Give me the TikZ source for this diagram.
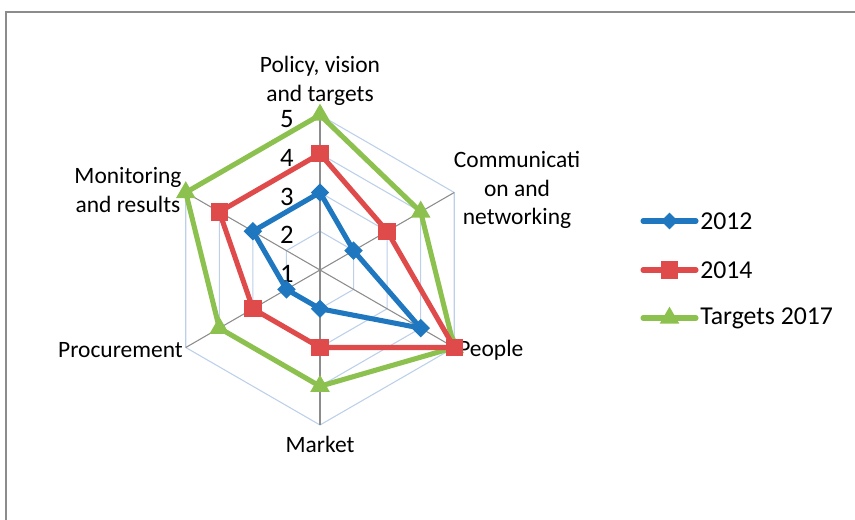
\documentclass[tikz,border=0pt]{standalone}
\usepackage{xcolor}
\usepackage{fontspec}
\setmainfont{Carlito}
\usepackage{tikz}
\usetikzlibrary{shapes,positioning}

\definecolor{blueA}{HTML}{1F77BF}
\definecolor{redB}{HTML}{DF4B4B}
\definecolor{greenC}{HTML}{8DC14F}
\definecolor{gridblue}{HTML}{BCD0EA}
\definecolor{spokegray}{HTML}{8C8C8C}

\tikzset{
  axislabel/.style={font=\fontsize{17.6}{21.5}\selectfont, align=center},
  ticklabel/.style={font=\fontsize{20}{22}\selectfont},
  legendtext/.style={font=\fontsize{19.3}{21}\selectfont, anchor=west, inner sep=0pt},
  serie/.style={line width=3.8pt, line join=round, line cap=round},
  mkdiamond/.style={diamond, fill=blueA, inner sep=0pt, minimum size=14pt},
  mksquare/.style={rectangle, fill=redB, inner sep=0pt, minimum size=13pt},
  mktriangle/.style={regular polygon, regular polygon sides=3, fill=greenC, inner sep=0pt, minimum size=17pt}
}

\begin{document}
\begin{tikzpicture}[x=0.75pt, y=0.75pt]
\useasboundingbox (0,0) rectangle (855,520);
\draw[spokegray, line width=1.1pt] (6,0) |- (855,508);

\begin{scope}[shift={(320,250)}]
% grid and spokes
\foreach \r in {38.75,77.5,116.25,155}
  \draw[gridblue, line width=0.8pt] (90:\r) -- (30:\r) -- (-30:\r) -- (-90:\r) -- (-150:\r) -- (150:\r) -- cycle;
\foreach \a in {90,30,-30,-90,-150,150}
  \draw[spokegray, line width=0.8pt] (0,0) -- (\a:155);

% scale
\foreach \v in {1,...,5}
  \node (tick\v) [ticklabel] at (-33, {(\v-1)*38.75-4}) {\v};

% axis names
\node (policy) [axislabel] at (0,189) {Policy, vision\\and targets};
\node (comm) [axislabel] at (197,80) {Communicati\\on and\\networking};
\node (people) [axislabel, anchor=west, inner sep=0pt] at (138,-80) {People};
\node (market) [axislabel] at (0,-174) {Market};
\node (procure) [axislabel, anchor=east, inner sep=0pt] at (-137,-80) {Procurement};
\node (monitor) [axislabel] at (-192,80) {Monitoring\\and results};

% data points
\foreach \a/\u/\v/\w [count=\i] in {90/3/4/5, 30/2/3/4, -30/4/5/5, -90/2/3/4, -150/2/3/4, 150/3/4/5} {
  \coordinate (p12\i) at (\a:{(\u-1)*38.75});
  \coordinate (p14\i) at (\a:{(\v-1)*38.75});
  \coordinate (p17\i) at (\a:{(\w-1)*38.75});
}

\draw[serie, greenC] (p171) -- (p172) -- (p173) -- (p174) -- (p175) -- (p176) -- cycle;
\draw[serie, redB] (p141) -- (p142) -- (p143) -- (p144) -- (p145) -- (p146) -- cycle;
\draw[serie, blueA] (p121) -- (p122) -- (p123) -- (p124) -- (p125) -- (p126) -- cycle;
\foreach \i in {1,...,6} {
  \node (g\i) [mktriangle] at (p17\i) {};
  \node (r\i) [mksquare] at (p14\i) {};
  \node (b\i) [mkdiamond] at (p12\i) {};
}
\end{scope}

% legend
\node (leg12) [legendtext] at (700,299) {2012};
\node (leg14) [legendtext] at (700,250) {2014};
\node (leg17) [legendtext] at (700,202) {Targets 2017};
\coordinate (k12) at (643,299);
\coordinate (k14) at (643,250);
\coordinate (k17) at (643,202);
\draw[serie, blueA] (k12) -- ([xshift=-3pt]leg12.west) node[midway, mkdiamond] {};
\draw[serie, redB] (k14) -- ([xshift=-3pt]leg14.west) node[midway, mksquare] {};
\draw[serie, greenC] (k17) -- ([xshift=-3pt]leg17.west) node[midway, mktriangle] {};
\end{tikzpicture}
\end{document}
